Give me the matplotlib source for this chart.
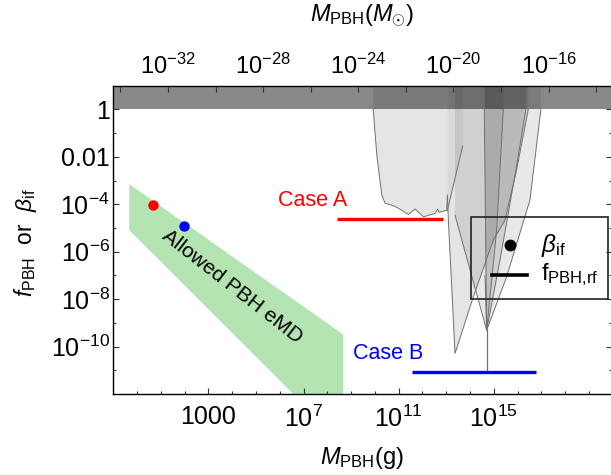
import matplotlib
matplotlib.use('Agg')
import matplotlib.pyplot as plt
from matplotlib.patches import Rectangle
from matplotlib.ticker import FixedLocator, FixedFormatter, NullFormatter

plt.rcParams['font.family'] = ['Liberation Sans', 'DejaVu Sans']
plt.rcParams['mathtext.fontset'] = 'custom'
plt.rcParams['mathtext.rm'] = 'Liberation Sans'
plt.rcParams['mathtext.it'] = 'Liberation Sans:italic'
plt.rcParams['mathtext.bf'] = 'Liberation Sans:bold'

MSUN_G = 2e33

# axis ranges (log10)
x_range = [-1.0, 19.95]
y_range = [-12.0, 1.0]

# allowed region for PBH in eMD (log10 M[g], log10 f)
allowed_logm = [-0.33, 8.67, 8.67, 6.57, -0.33]
allowed_logf = [-3.15, -9.49, -12.0, -12.0, -5.09]

# beta_if points
beta_logm = [0.66, 1.97]
beta_logf = [-4.02, -4.92]
beta_colors = ['red', 'blue']

# f_PBH,rf for the two cases
case_names = ['Case A', 'Case B']
case_colors = ['red', 'blue']
case_logm = [[8.42, 12.86], [11.55, 16.78]]
case_logf = [-4.62, -11.08]
case_label_logm = [5.94, 9.07]
case_label_logf = [-3.82, -10.29]

# observational constraints (lower boundaries, log10)
r1_logm = [9.93, 10.08, 10.29, 10.43, 10.78, 10.99, 11.41, 11.69, 12.04, 12.53, 12.64, 12.70, 13.02, 13.05]
r1_logf = [0.0, -1.92, -3.61, -3.96, -4.06, -4.17, -4.43, -4.20, -4.53, -4.38, -4.20, -4.34, -4.25, -3.61]
ra_logm = [13.05, 13.09, 13.37, 14.14, 14.98, 15.47, 15.95, 16.45]
ra_logf = [-3.68, -4.67, -10.29, -7.90, -5.51, -4.67, -2.60, 0.0]
rb_logm = [13.37, 14.70, 15.54, 16.52, 16.98]
rb_logf = [-4.46, -9.31, -7.06, -3.82, 0.0]
rf_logm = [14.60, 14.70, 15.26, 15.93, 16.35]
rf_logf = [0.0, -9.31, -6.36, -2.56, 0.0]
rc_logm = [14.63, 14.70, 15.12, 15.40]
rc_logf = [-7.0, -9.31, -5.09, 0.0]
re_logm = [13.05, 13.69]
re_logf = [-4.25, -1.55]
needle_logm = [14.70, 14.70]
needle_logf = [-9.31, -11.08]

constraints = [
    (r1_logm, r1_logf, 0.10),
    (ra_logm, ra_logf, 0.10),
    (rb_logm, rb_logf, 0.09),
    (rf_logm, rf_logf, 0.10),
    (rc_logm, rc_logf, 0.08),
    (re_logm, re_logf, 0.05),
]


def p10(v):
    return [10.0 ** a for a in v]


fig = plt.figure(figsize=(6.11, 4.75), dpi=100)
ax = fig.add_axes([113.3 / 611, 81 / 475, 498.2 / 611, 308.3 / 475])
ax.set_xscale('log')
ax.set_yscale('log')
ax.set_xlim(10 ** x_range[0], 10 ** x_range[1])
ax.set_ylim(10 ** y_range[0], 10 ** y_range[1])

# f > 1 excluded
ax.axhspan(1.0, 10 ** 1.5, color='#888888', lw=0, zorder=1)

top = 1.5
for lm, lf, a in constraints:
    xs = [lm[0]] + list(lm) + [lm[-1]]
    ys = [top] + list(lf) + [top]
    ax.fill(p10(xs), p10(ys), color='black', alpha=a, lw=0, zorder=2)
    ax.plot(p10(lm), p10(lf), color='#707070', lw=0.7, zorder=2.5)
ax.plot(p10(needle_logm), p10(needle_logf), color='#707070', lw=0.9, zorder=2.5)

ax.fill(p10(allowed_logm), p10(allowed_logf), color='#b3e4b1', lw=0, zorder=1.5)
ax.text(10 ** 3.99, 10 ** -7.49, 'Allowed PBH eMD', rotation=-38, rotation_mode='anchor',
        ha='center', va='center', fontsize=15, zorder=3)

for lm, lf, c in zip(beta_logm, beta_logf, beta_colors):
    ax.plot(10 ** lm, 10 ** lf, 'o', color=c, ms=7.5, mec='none', zorder=4)

for name, c, lm, lf, tx, ty in zip(case_names, case_colors, case_logm, case_logf,
                                   case_label_logm, case_label_logf):
    ax.plot(p10(lm), [10 ** lf] * 2, color=c, lw=2.4, solid_capstyle='butt', zorder=4)
    ax.text(10 ** tx, 10 ** ty, name, color=c, fontsize=15.5, ha='left', va='center', zorder=4)

# legend
ax.add_patch(Rectangle((0.718, 0.307), 0.275, 0.268, transform=ax.transAxes, fill=False,
                       edgecolor='#222222', lw=1.2, zorder=5))
ax.plot([0.797], [0.483], 'o', color='black', ms=7.5, transform=ax.transAxes, zorder=5)
ax.plot([0.760, 0.830], [0.387, 0.387], color='black', lw=2.6, transform=ax.transAxes, zorder=5)
ax.text(0.858, 0.483, r'$\beta_{\rm if}$', transform=ax.transAxes, fontsize=17.5, va='center', zorder=5)
ax.text(0.858, 0.387, r'f$_{\rm PBH{,}rf}$', transform=ax.transAxes, fontsize=17, va='center', zorder=5)

# ticks
xmaj = [3, 7, 11, 15]
ax.xaxis.set_major_locator(FixedLocator(p10(xmaj)))
ax.xaxis.set_major_formatter(FixedFormatter(['1000', r'$10^{7}$', r'$10^{11}$', r'$10^{15}$']))
ax.xaxis.set_minor_locator(FixedLocator([10.0 ** k for k in range(0, 20) if k not in xmaj]))
ax.xaxis.set_minor_formatter(NullFormatter())

ymaj = [0, -2, -4, -6, -8, -10]
ax.yaxis.set_major_locator(FixedLocator(p10(ymaj)))
ax.yaxis.set_major_formatter(FixedFormatter(['1', '0.01', r'$10^{-4}$', r'$10^{-6}$',
                                             r'$10^{-8}$', r'$10^{-10}$']))
ax.yaxis.set_minor_locator(FixedLocator([10.0 ** k for k in range(-11, 0, 2)]))
ax.yaxis.set_minor_formatter(NullFormatter())

ax.tick_params(which='both', direction='in', top=False, right=True, color='#333333',
               labelsize=18, width=0.8)
ax.tick_params(axis='x', which='major', length=4.5, pad=8)
ax.tick_params(axis='y', which='major', length=4.5, pad=2.5)
ax.tick_params(which='minor', length=2.5)
for s in ax.spines.values():
    s.set_color('#333333')
    s.set_linewidth(1.0)

ax2 = ax.twiny()
ax2.set_xscale('log')
ax2.set_xlim(10 ** x_range[0] / MSUN_G, 10 ** x_range[1] / MSUN_G)
top_maj = [-32, -28, -24, -20, -16]
ax2.xaxis.set_major_locator(FixedLocator(p10(top_maj)))
ax2.xaxis.set_major_formatter(FixedFormatter([r'$10^{%d}$' % k for k in top_maj]))
ax2.xaxis.set_minor_locator(FixedLocator([10.0 ** k for k in range(-34, -13, 2) if k not in top_maj]))
ax2.xaxis.set_minor_formatter(NullFormatter())
ax2.tick_params(which='both', direction='in', color='#333333', labelsize=17, width=0.8, pad=5)
ax2.tick_params(which='major', length=4.5)
ax2.tick_params(which='minor', length=4.5)

fig.text(0.593, 0.036, r'$M_{\rm PBH}$(g)', fontsize=17, ha='center', va='center')
fig.text(0.593, 0.968, r'$M_{\rm PBH}$($M_{\odot}$)', fontsize=17, ha='center', va='center')
fig.text(0.041, 0.49, r'$f_{\rm PBH}$  or  $\beta_{\rm if}$', fontsize=16.5, rotation=90,
         ha='center', va='center')

fig.savefig('out.png', dpi=100)
